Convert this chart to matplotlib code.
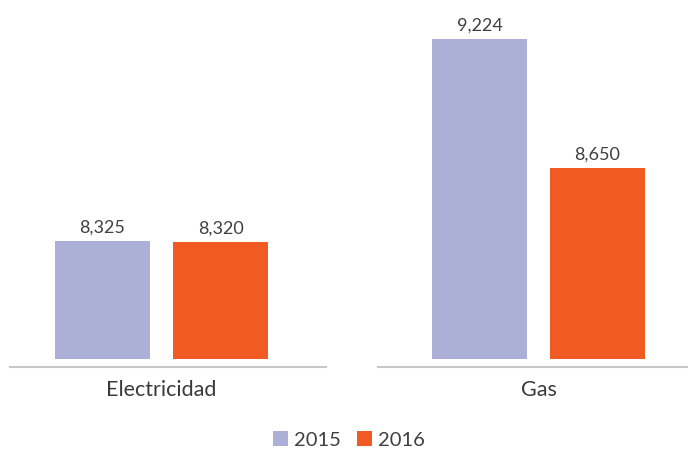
import matplotlib
import matplotlib.pyplot as plt
from matplotlib.patches import Patch

matplotlib.use("Agg")

# data
categories = ["Electricidad", "Gas"]
years = ["2015", "2016"]
values_2015 = [8325, 9224]
values_2016 = [8320, 8650]

_COLORS = ["#ADB0D6", "#F15A22"]
_TEXT = "#404040"
_YMIN, _YMAX = 7800, 9400

plt.rcParams.update({
    "font.family": ["Lato", "DejaVu Sans"],
    "font.size": 13,
})

fig = plt.figure(figsize=(6.88, 4.53), dpi=100)
W, H = 688, 453

# one panel per category, sharing the same value scale
panels = [
    (10, 326, (-0.478, 0.519)),
    (378, 694, (-0.507, 0.491)),
]
width = 0.30
offset = 0.1863

series = [values_2015, values_2016]
for i, (cat, (x0, x1, xl)) in enumerate(zip(categories, panels)):
    ax = fig.add_axes([x0 / W, 1 - 359 / H, (x1 - x0) / W, 359 / H])
    # spine position first: moving it resets the tick labels
    for s in ("top", "left", "right"):
        ax.spines[s].set_visible(False)
    ax.spines["bottom"].set_position(("outward", 6))
    ax.spines["bottom"].set_color("#C8C8C8")
    ax.spines["bottom"].set_linewidth(1.5)
    ax.patch.set_visible(False)

    for j, vals in enumerate(series):
        xpos = (j - 0.5) * 2 * offset
        v = vals[i]
        ax.bar(xpos, v - _YMIN, bottom=_YMIN, width=width, color=_COLORS[j])
        ax.text(xpos, v + 25, f"{v:,}", ha="center", va="bottom",
                color=_TEXT, fontsize=13)
    ax.set_ylim(_YMIN, _YMAX)
    ax.set_xlim(*xl)
    ax.set_yticks([])
    ax.set_xticks([0])
    ax.set_xticklabels([cat])
    ax.tick_params(axis="x", length=0, pad=9, labelsize=15.5,
                   labelcolor="#3a3a3a")

handles = [Patch(facecolor=c, label=y) for c, y in zip(_COLORS, years)]
fig.legend(handles=handles, loc="center", bbox_to_anchor=(349 / W, 1 - 440 / H),
           ncol=2, frameon=False, fontsize=14.5, handlelength=0.75,
           handleheight=0.75, handletextpad=0.3, columnspacing=0.8,
           labelcolor=_TEXT)

fig.savefig("out.png", dpi=100)
